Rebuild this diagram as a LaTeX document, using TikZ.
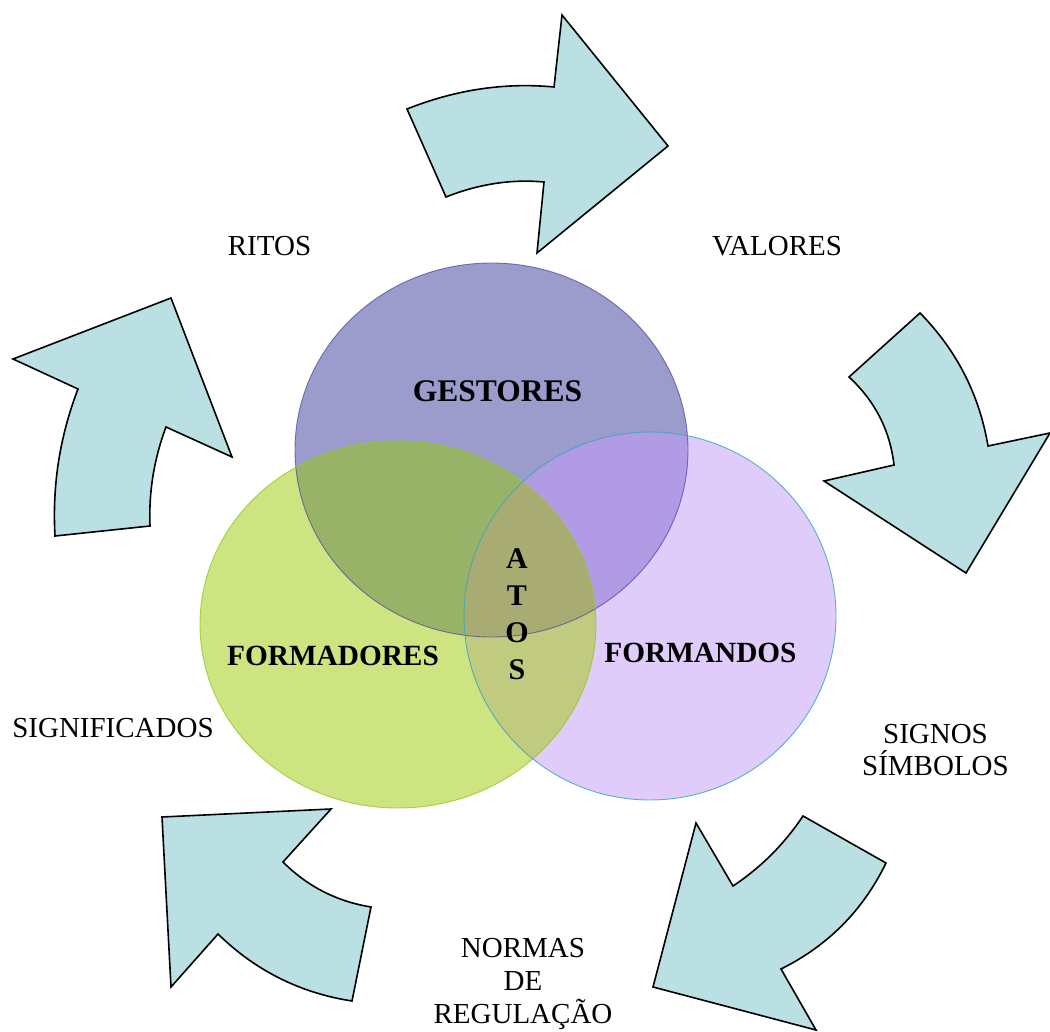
\documentclass[tikz,border=0pt]{standalone}
\usepackage{fontspec}
\setmainfont{Liberation Serif}
\usetikzlibrary{calc}
\definecolor{arrowfill}{RGB}{186,224,227}
\definecolor{gcol}{RGB}{155,155,204}
\definecolor{fdcol}{RGB}{205,228,128}
\definecolor{fmcol}{RGB}{224,204,250}
\definecolor{gfdcol}{RGB}{152,178,104}
\definecolor{gfmcol}{RGB}{176,155,228}
\definecolor{fdfmcol}{RGB}{192,203,128}
\definecolor{allcol}{RGB}{168,172,114}
\definecolor{gedge}{RGB}{70,70,160}
\definecolor{fdedge}{RGB}{150,200,40}
\definecolor{fmedge}{RGB}{50,165,185}
\tikzset{
  arrowshape/.style={fill=arrowfill, draw=black, line width=1.6pt, line join=miter},
  lbl/.style={font=\fontsize{29}{33}\selectfont, anchor=base, inner sep=0pt, align=center},
  blbl/.style={font=\fontsize{29.3}{37}\selectfont\bfseries, anchor=base, inner sep=0pt, align=center},
}
\begin{document}
\begin{tikzpicture}[x=1pt,y=-1pt]
\useasboundingbox (0,0) rectangle (1050,1032);
\def\Gshape{(491.5,450) ellipse [x radius=196.5, y radius=187]}
\def\FDshape{(398,624.5) ellipse [x radius=198, y radius=183.5]}
\def\FMshape{(650,616) ellipse [x radius=186, y radius=184]}
% circles
\fill[gcol] \Gshape;
\fill[fdcol] \FDshape;
\fill[fmcol] \FMshape;
\begin{scope}\clip \Gshape; \fill[gfdcol] \FDshape; \end{scope}
\begin{scope}\clip \Gshape; \fill[gfmcol] \FMshape; \end{scope}
\begin{scope}\clip \FDshape; \fill[fdfmcol] \FMshape; \end{scope}
\begin{scope}\clip \Gshape; \clip \FDshape; \fill[allcol] \FMshape; \end{scope}
\draw[gedge, line width=0.9pt, draw opacity=0.7] \Gshape;
\draw[fdedge, line width=0.9pt, draw opacity=0.8] \FDshape;
\draw[fmedge, line width=0.9pt, draw opacity=0.8] \FMshape;
% arrows (quadratic curves written as cubic: controls at 2/3 toward the quadratic control point)
\draw[arrowshape] (407,109) .. controls ($(407,109)!0.6667!(480,80)$) and ($(554,87)!0.6667!(480,80)$) .. (554,87) -- (562,15) -- (668,146) -- (537,253) -- (544,182) .. controls ($(544,182)!0.6667!(495,177.5)$) and ($(446,197)!0.6667!(495,177.5)$) .. (446,197) -- cycle;
\draw[arrowshape] (920,313) -- (849,377) .. controls ($(849,377)!0.6667!(888,413)$) and ($(894,465)!0.6667!(888,413)$) .. (894,465) -- (824,481) -- (966,573) -- (1050,433) -- (988,446) .. controls ($(988,446)!0.6667!(975,369)$) and ($(920,313)!0.6667!(975,369)$) .. (920,313) -- cycle;
\draw[arrowshape] (803,816) -- (886,863) .. controls ($(886,863)!0.6667!(851.5,934)$) and ($(781,969)!0.6667!(851.5,934)$) .. (781,969) -- (816,1030) -- (653,987) -- (696,823) -- (733,886) .. controls ($(733,886)!0.6667!(775,858)$) and ($(803,816)!0.6667!(775,858)$) .. (803,816) -- cycle;
\draw[arrowshape] (162,817) -- (331,809) -- (283,862) .. controls ($(283,862)!0.6667!(319.7,898.7)$) and ($(371,907)!0.6667!(319.7,898.7)$) .. (371,907) -- (352,1001) .. controls ($(352,1001)!0.6667!(274.3,989)$) and ($(218,934)!0.6667!(274.3,989)$) .. (218,934) -- (171,987) -- cycle;
\draw[arrowshape] (55,536) .. controls ($(55,536)!0.6667!(50.7,460)$) and ($(78,389)!0.6667!(50.7,460)$) .. (78,389) -- (13,359) -- (171,298) -- (232,457) -- (166,427) .. controls ($(166,427)!0.6667!(148,475)$) and ($(150,526)!0.6667!(148,475)$) .. (150,526) -- cycle;
% texts
\node[blbl, font=\fontsize{31.5}{37}\selectfont\bfseries] (gestores) at (497.5,402) {GESTORES};
\node[blbl] (formadores) at (333,665) {FORMADORES};
\node[blbl] (formandos) at (700.5,662) {FORMANDOS};
\node[blbl, font=\fontsize{30}{37}\selectfont\bfseries] (atos) at (517,679) {A\\T\\O\\S};
\node[lbl] (ritos) at (269.5,256) {RITOS};
\node[lbl] (valores) at (777,256) {VALORES};
\node[lbl] (signif) at (113,737) {SIGNIFICADOS};
\node[lbl, font=\fontsize{29}{32}\selectfont] (signos) at (935.5,775) {SIGNOS\\SÍMBOLOS};
\node[lbl] (normas) at (523,1023) {NORMAS\\DE\\REGULAÇÃO};
\end{tikzpicture}
\end{document}
